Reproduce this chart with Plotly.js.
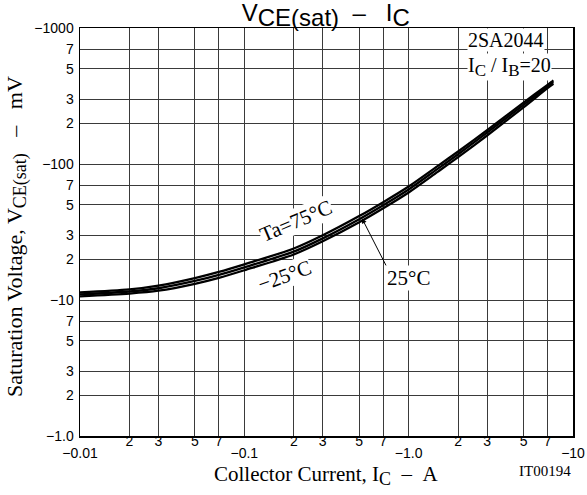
<!DOCTYPE html>
<html>
<head>
<meta charset="utf-8">
<script src="https://cdn.plot.ly/plotly-3.0.1.min.js"></script>
<style>html,body{margin:0;padding:0;background:#fff;}#chart{width:587px;height:495px;}</style>
</head>
<body>
<div id="chart"></div>
<script>
// Collector current (A, magnitude)
const collectorCurrent = [0.01, 0.02, 0.03, 0.05, 0.07, 0.1, 0.2, 0.3, 0.5, 0.7, 1.0, 1.5, 2, 3, 5, 7, 7.6];
// Saturation voltage (mV, magnitude) per ambient temperature
const vce75  = [11.35, 11.95, 12.75, 14.5, 16.1, 18.3, 23.9, 29.9, 41.4, 52.4, 68.3, 96.5, 123.5, 177, 283, 382, 412];
const vce25  = [11.0, 11.55, 12.2, 13.8, 15.3, 17.4, 22.7, 28.4, 39.3, 49.8, 65.0, 92.0, 118.0, 170, 272, 372, 400];
const vceM25 = [10.65, 11.15, 11.7, 13.15, 14.55, 16.55, 21.6, 27.0, 37.3, 47.3, 61.8, 87.5, 112.3, 162, 261, 361, 388];

// Tick values / labels
const xMinorVals = [0.02, 0.03, 0.05, 0.07, 0.2, 0.3, 0.5, 0.7, 2, 3, 5, 7];
const xMinorText = ["2", "3", "5", "7", "2", "3", "5", "7", "2", "3", "5", "7"];
const xDecadeVals = [0.01, 0.1, 1, 10];
const xDecadeText = ["\u22120.01", "\u22120.1", "\u22121.0", "\u221210"];
const yTickVals = [1, 2, 3, 5, 7, 10, 20, 30, 50, 70, 100, 200, 300, 500, 700, 1000];
const yTickText = ["\u22121.0", "2", "3", "5", "7", "\u221210", "2", "3", "5", "7", "\u2212100", "2", "3", "5", "7", "\u22121000"];

const serif = "Liberation Serif, Times New Roman, serif";
const sans = "Liberation Sans, Arial, sans-serif";
const gridColor = "#3a3a3a";

const lineStyle = {color: "#000", width: 2.3, shape: "spline", smoothing: 0.8};
const traces = [
  {x: collectorCurrent, y: vce75, mode: "lines", line: lineStyle, name: "Ta=75°C", hoverinfo: "skip"},
  {x: collectorCurrent, y: vce25, mode: "lines", line: lineStyle, name: "25°C", hoverinfo: "skip"},
  {x: collectorCurrent, y: vceM25, mode: "lines", line: lineStyle, name: "−25°C", hoverinfo: "skip"},
  {x: [], y: [], xaxis: "x2", yaxis: "y", mode: "lines", showlegend: false, hoverinfo: "skip"}
];

const nb = n => "\u00a0".repeat(n);
const sub = (t, px) => "<sub><span style=\"font-size:" + px + "px\">" + t + "</span></sub>";

const layout = {
  width: 587, height: 495,
  margin: {l: 80, r: 14, t: 28, b: 59, pad: 0},
  paper_bgcolor: "#fff", plot_bgcolor: "#fff",
  showlegend: false,
  title: {
    text: "V" + sub("CE(sat)", 24) + nb(2) + "\u2013" + nb(3) + "I" + sub("C", 24),
    font: {family: sans, size: 24, color: "#000"},
    x: 0.555, xanchor: "center", yref: "container", y: 0.992, yanchor: "top"
  },
  xaxis: {
    type: "log", range: [-2, 1],
    tickmode: "array", tickvals: xMinorVals, ticktext: xMinorText,
    showgrid: true, gridcolor: gridColor, gridwidth: 1, zeroline: false,
    ticks: "", ticklabelstandoff: -8,
    tickfont: {family: sans, size: 14, color: "#000"},
    showline: true, mirror: true, linecolor: "#000", linewidth: 1.5,
    automargin: false
  },
  xaxis2: {
    type: "log", range: [-2, 1], overlaying: "x", anchor: "y", side: "bottom",
    tickmode: "array", tickvals: xDecadeVals, ticktext: xDecadeText,
    showgrid: true, gridcolor: gridColor, gridwidth: 1, zeroline: false, ticks: "", ticklabelstandoff: 7,
    tickfont: {family: sans, size: 14, color: "#000"},
    showline: false, automargin: false
  },
  yaxis: {
    type: "log", range: [0, 3],
    tickmode: "array", tickvals: yTickVals, ticktext: yTickText,
    showgrid: true, gridcolor: gridColor, gridwidth: 1, zeroline: false, ticks: "", ticklabelstandoff: 2,
    tickfont: {family: sans, size: 14, color: "#000"},
    showline: true, mirror: true, linecolor: "#000", linewidth: 1.5,
    automargin: false
  },
  annotations: [
    // axis titles
    {xref: "paper", yref: "paper", x: 0.5, y: -0.096, xanchor: "center", yanchor: "middle",
     text: "Collector Current, I" + sub("C", 18) + nb(2) + "\u2013" + nb(2) + "A", showarrow: false,
     font: {family: serif, size: 21, color: "#000"}},
    {xref: "paper", yref: "paper", x: -0.128, y: 0.49, xanchor: "center", yanchor: "middle", textangle: -90,
     text: "Saturation Voltage, V" + sub("CE(sat)", 18) + nb(3) + "\u2013" + nb(3) + "mV", showarrow: false,
     font: {family: serif, size: 22, color: "#000"}},
    {xref: "paper", yref: "paper", x: 0.785, y: 0.971, xanchor: "left", yanchor: "middle",
     text: "2SA2044", showarrow: false, bgcolor: "#fff", borderpad: 0,
     font: {family: serif, size: 20, color: "#000"}},
    {xref: "paper", yref: "paper", x: 0.785, y: 0.905, xanchor: "left", yanchor: "middle",
     text: "I" + sub("C", 17) + " / I" + sub("B", 17) + "=20", showarrow: false, bgcolor: "#fff", borderpad: 0,
     font: {family: serif, size: 20, color: "#000"}},
    {xref: "paper", yref: "paper", x: 0.438, y: 0.527, xanchor: "center", yanchor: "middle",
     text: "Ta=75°C", textangle: -23, showarrow: false, bgcolor: "#fff", borderpad: 0,
     font: {family: serif, size: 21, color: "#000"}},
    {xref: "paper", yref: "paper", x: 0.414, y: 0.392, xanchor: "center", yanchor: "middle",
     text: "\u221225°C", textangle: -20, showarrow: false, bgcolor: "#fff", borderpad: 0,
     font: {family: serif, size: 21, color: "#000"}},
    {xref: "x", yref: "y", x: Math.log10(0.52), y: Math.log10(39.8), xanchor: "left", yanchor: "top",
     text: "25°C", showarrow: true, arrowhead: 2, arrowsize: 1, arrowwidth: 1, arrowcolor: "#000",
     ax: 24, ay: 47, bgcolor: "#fff", borderpad: 0,
     font: {family: serif, size: 21, color: "#000"}},
    {xref: "paper", yref: "paper", x: 1.0, y: -0.062, xanchor: "right", yanchor: "top",
     text: "IT00194", showarrow: false,
     font: {family: serif, size: 15, color: "#000"}}
  ]
};

Plotly.newPlot("chart", traces, layout, {displayModeBar: false, staticPlot: true});
</script>
</body>
</html>
